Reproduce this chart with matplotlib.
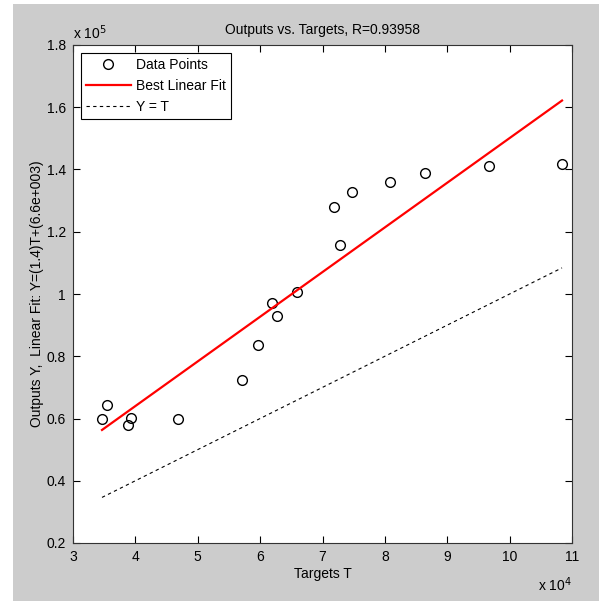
import numpy as np
import matplotlib.pyplot as plt
from matplotlib.patches import Rectangle

plt.rcParams['font.family'] = ['Liberation Sans', 'DejaVu Sans']

# Targets (x 1e4) and outputs (x 1e5)
targets = np.array([3.465, 3.545, 3.88, 3.93, 4.68, 5.71, 5.96, 6.19, 6.27,
                    6.59, 7.18, 7.28, 7.47, 8.08, 8.64, 9.67, 10.84])
outputs = np.array([0.598, 0.643, 0.579, 0.601, 0.598, 0.724, 0.836, 0.971, 0.929,
                    1.006, 1.280, 1.157, 1.328, 1.360, 1.389, 1.411, 1.418])

# Linear fit Y = a*T + b (from the picture)
slope = 1.435
intercept = 6.6e3

T = targets * 1e4
fit = (slope * T + intercept) / 1e5
ident = T / 1e5

fs = 10

fig = plt.figure(figsize=(5.99, 6.01), dpi=100)
fig.patch.set_facecolor('white')
fig.patches.append(Rectangle((13 / 599, 0), 1, 1 - 4 / 601, transform=fig.transFigure,
                             facecolor='#cccccc', edgecolor='none', zorder=-10))

ax = fig.add_axes([73 / 599, 1 - 543 / 601, 499 / 599, 498 / 601])
ax.set_facecolor('white')

ax.plot(targets, outputs, 'o', mfc='none', mec='black', ms=7, mew=1, label='Data Points')
order = np.argsort(targets)
ax.plot(targets[order], fit[order], color='red', lw=1.6, label='Best Linear Fit')
ax.plot(targets[order], ident[order], color='black', ls=(0, (3, 3)), lw=0.8, label='Y = T')

ax.set_xlim(3, 11)
ax.set_ylim(0.2, 1.8)
ax.set_xticks(np.arange(3, 12, 1))
ax.set_yticks(np.arange(0.2, 1.81, 0.2))
ax.set_yticklabels(['0.2', '0.4', '0.6', '0.8', '1', '1.2', '1.4', '1.6', '1.8'])
ax.tick_params(direction='in', top=True, right=True, labelsize=fs, length=5, pad=5)
for s in ax.spines.values():
    s.set_color('#333333')

ax.set_title('Outputs vs. Targets, R=0.93958', fontsize=fs, pad=8)
ax.set_xlabel('Targets T', fontsize=fs, labelpad=2)
ax.set_ylabel('Outputs Y,  Linear Fit: Y=(1.4)T+(6.6e+003)', fontsize=fs, labelpad=2)

ax.text(0.0, 1.006, r'x 10$^{5}$', transform=ax.transAxes, fontsize=fs,
        ha='left', va='bottom')
ax.text(1.0, -0.066, r'x 10$^{4}$', transform=ax.transAxes, fontsize=fs,
        ha='right', va='top')

leg = ax.legend(loc='upper left', fontsize=fs, fancybox=False, framealpha=1,
                edgecolor='black', borderaxespad=0.6, handlelength=3.2,
                labelspacing=0.5, borderpad=0.35, handletextpad=0.4)
leg.get_frame().set_linewidth(0.8)

fig.savefig('out.png', dpi=100, facecolor=fig.get_facecolor())
